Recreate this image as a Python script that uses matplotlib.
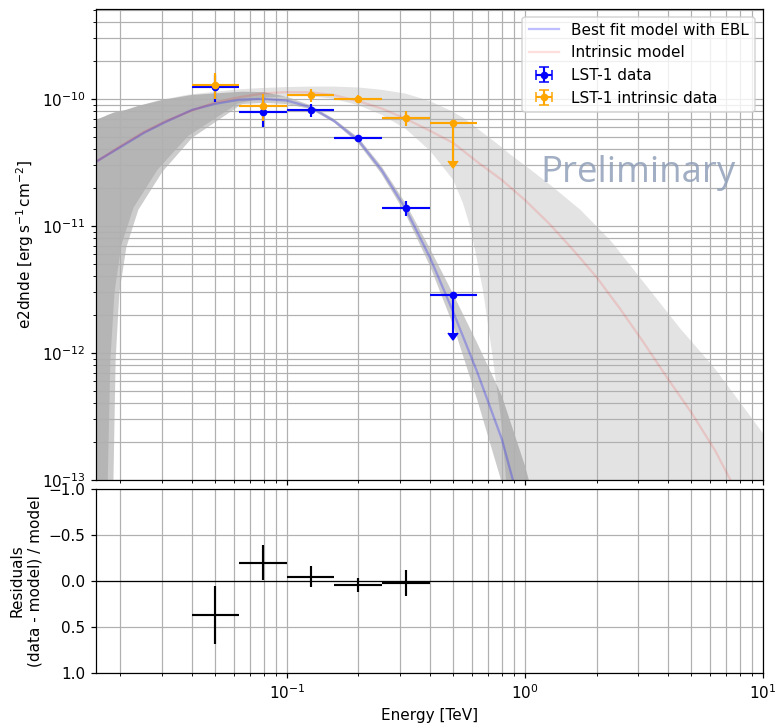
import matplotlib
matplotlib.use("Agg")
import matplotlib.pyplot as plt
import numpy as np

# flux points (e2dnde, erg s-1 cm-2), energies in TeV
e_ref = [0.05, 0.0794, 0.126, 0.2, 0.316, 0.5]
e_min = [0.0398, 0.063, 0.1, 0.158, 0.251, 0.398]
e_max = [0.063, 0.1, 0.158, 0.251, 0.398, 0.631]
is_ul = [False, False, False, False, False, True]

lst_flux = [1.24e-10, 7.95e-11, 8.2e-11, 4.9e-11, 1.38e-11, 2.86e-12]
lst_err = [2.9e-11, 1.9e-11, 9.9e-12, 3.4e-12, 1.9e-12, 1.43e-12]
intr_flux = [1.29e-10, 8.85e-11, 1.075e-10, 1.0e-10, 7.1e-11, 6.5e-11]
intr_err = [3.0e-11, 2.1e-11, 1.3e-11, 6.9e-12, 9.8e-12, 3.25e-11]

resid = [0.37, -0.2, -0.047, 0.043, 0.018]
resid_err = [0.32, 0.19, 0.115, 0.072, 0.14]

# best fit model with EBL
ebl_e = [0.0158, 0.0204, 0.0251, 0.0305, 0.04, 0.05, 0.063, 0.08, 0.1, 0.126,
         0.158, 0.2, 0.25, 0.316, 0.4, 0.5, 0.63, 0.8, 0.89, 1.0]
ebl_f = [3.2e-11, 4.27e-11, 5.4e-11, 6.5e-11, 8.19e-11, 9.15e-11, 9.85e-11, 1.0e-10,
         9.7e-11, 8.6e-11, 6.7e-11, 4.7e-11, 2.75e-11, 1.356e-11, 5.6e-12, 2.1e-12,
         7.1e-13, 2.1e-13, 1.0e-13, 4.5e-14]

ebl_band_e = [0.0158, 0.0175, 0.0184, 0.0187, 0.0191, 0.0198, 0.0212, 0.0238, 0.030,
              0.040, 0.0648, 0.08, 0.1, 0.126, 0.158, 0.2, 0.25, 0.316, 0.4, 0.5,
              0.63, 0.8, 1.0, 1.12]
ebl_band_lo = [1e-16, 1e-16, 1e-15, 1.0e-13, 8.8e-13, 2.97e-12, 6.83e-12, 1.34e-11,
               2.66e-11, 4.93e-11, 9.1e-11, 9.3e-11, 9.1e-11, 8.3e-11, 6.5e-11,
               4.45e-11, 2.56e-11, 1.23e-11, 4.8e-12, 1.65e-12, 4.3e-13, 9.5e-14,
               1.2e-14, 2e-15]
ebl_band_hi = [6.8e-11, 7.4e-11, 7.7e-11, 7.8e-11, 7.9e-11, 8.0e-11, 8.2e-11, 8.8e-11,
               9.8e-11, 1.075e-10, 1.14e-10, 1.13e-10, 1.04e-10, 8.9e-11, 6.95e-11,
               4.95e-11, 2.95e-11, 1.5e-11, 6.6e-12, 2.9e-12, 1.2e-12, 4.6e-13,
               1.3e-13, 6e-14]

# intrinsic model
intr_e = [0.0158, 0.02, 0.0251, 0.0316, 0.04, 0.05, 0.063, 0.08, 0.1, 0.126, 0.158,
          0.2, 0.25, 0.316, 0.4, 0.5, 0.63, 0.8, 1.0, 1.26, 1.58, 2.0, 2.5, 3.16,
          4.0, 5.0, 6.3, 7.3, 8.0]
intr_f = [3.2e-11, 4.25e-11, 5.5e-11, 6.8e-11, 8.1e-11, 9.4e-11, 1.03e-10, 1.106e-10,
          1.13e-10, 1.128e-10, 1.07e-10, 9.6e-11, 8.4e-11, 6.97e-11, 5.6e-11, 4.5e-11,
          3.2e-11, 2.3e-11, 1.6e-11, 1.05e-11, 6.6e-12, 3.95e-12, 2.25e-12, 1.2e-12,
          6.2e-13, 3.4e-13, 1.7e-13, 1.0e-13, 7e-14]

intr_band_e = [0.0158, 0.0172, 0.0177, 0.01815, 0.0189, 0.0202, 0.0227, 0.0286, 0.0385,
               0.0624, 0.08, 0.1, 0.126, 0.158, 0.2, 0.25, 0.316, 0.4, 0.5, 0.55,
               0.594, 0.667, 0.735, 0.794, 0.833, 0.86, 1.0, 1.3, 1.71, 2.3, 3.26,
               4.5, 6.19, 8.0, 10.0]
intr_band_lo = [1e-16, 1e-15, 1.0e-13, 8.8e-13, 3.0e-12, 7.1e-12, 1.39e-11, 2.76e-11,
                5.1e-11, 9.2e-11, 1.02e-10, 1.05e-10, 1.05e-10, 1.0e-10, 8.9e-11,
                7.5e-11, 5.8e-11, 3.9e-11, 2.3e-11, 1.5e-11, 9.3e-12, 3.1e-12, 8.8e-13,
                3.0e-13, 1.0e-13, 3e-14, 1e-16, 1e-16, 1e-16, 1e-16, 1e-16, 1e-16,
                1e-16, 1e-16, 1e-16]
intr_band_hi = [6.9e-11, 7.3e-11, 7.5e-11, 7.6e-11, 7.8e-11, 8.0e-11, 8.6e-11, 9.7e-11,
                1.08e-10, 1.19e-10, 1.22e-10, 1.24e-10, 1.25e-10, 1.25e-10, 1.23e-10,
                1.18e-10, 1.1e-10, 9.6e-11, 7.9e-11, 7.1e-11, 6.4e-11, 5.4e-11, 4.7e-11,
                4.2e-11, 3.9e-11, 3.7e-11, 3.0e-11, 2.05e-11, 1.34e-11, 7.6e-12, 3.33e-12,
                1.55e-12, 7.8e-13, 4.1e-13, 2.33e-13]

fig = plt.figure(figsize=(775 / 110, 727 / 110), dpi=110)
ax = fig.add_axes([0.1239, 0.3398, 0.8606, 0.6478])
ax_res = fig.add_axes([0.1239, 0.0743, 0.8606, 0.2531], sharex=ax)

xerr = [np.array(e_ref) - np.array(e_min), np.array(e_max) - np.array(e_ref)]

ax.fill_between(ebl_band_e, ebl_band_lo, ebl_band_hi, color="black", alpha=0.2, linewidth=0)
ax.fill_between(intr_band_e, intr_band_lo, intr_band_hi, color="black", alpha=0.11, linewidth=0)
ax.plot(ebl_e, ebl_f, color="blue", alpha=0.25, label="Best fit model with EBL")
ax.plot(intr_e, intr_f, color="red", alpha=0.13, label="Intrinsic model")

ax.errorbar(e_ref, lst_flux, xerr=xerr, yerr=lst_err, uplims=is_ul, fmt="o",
            color="blue", markersize=4, elinewidth=1.4, label="LST-1 data")
ax.errorbar(e_ref, intr_flux, xerr=xerr, yerr=intr_err, uplims=is_ul, fmt="o",
            color="orange", markersize=4, elinewidth=1.4, label="LST-1 intrinsic data")

ax.set_xscale("log")
ax.set_yscale("log")
ax.set_xlim(0.0158, 10)
ax.set_ylim(1e-13, 5.1e-10)
ax.set_ylabel(r"e2dnde [$\mathrm{erg\,s^{-1}\,cm^{-2}}$]")
ax.grid(which="both")
ax.tick_params(labelbottom=False)
ax.legend(loc="upper right")
ax.text(0.813, 0.652, "Preliminary", transform=ax.transAxes, ha="center", va="center",
        fontsize=24, family="Open Sans", color="#8a9ab5", alpha=0.8)

ax_res.errorbar(e_ref[:5], resid, xerr=[xerr[0][:5], xerr[1][:5]], yerr=resid_err,
                fmt="none", color="black", elinewidth=1.4)
ax_res.axhline(0, color="black", lw=0.8)
ax_res.set_ylim(1, -1)
ax_res.set_yticks([-1.0, -0.5, 0.0, 0.5, 1.0])
ax_res.grid(which="both")
ax_res.set_xlabel("Energy [TeV]")
ax_res.set_ylabel("Residuals\n(data - model) / model")

fig.savefig("out.png", dpi=110)
